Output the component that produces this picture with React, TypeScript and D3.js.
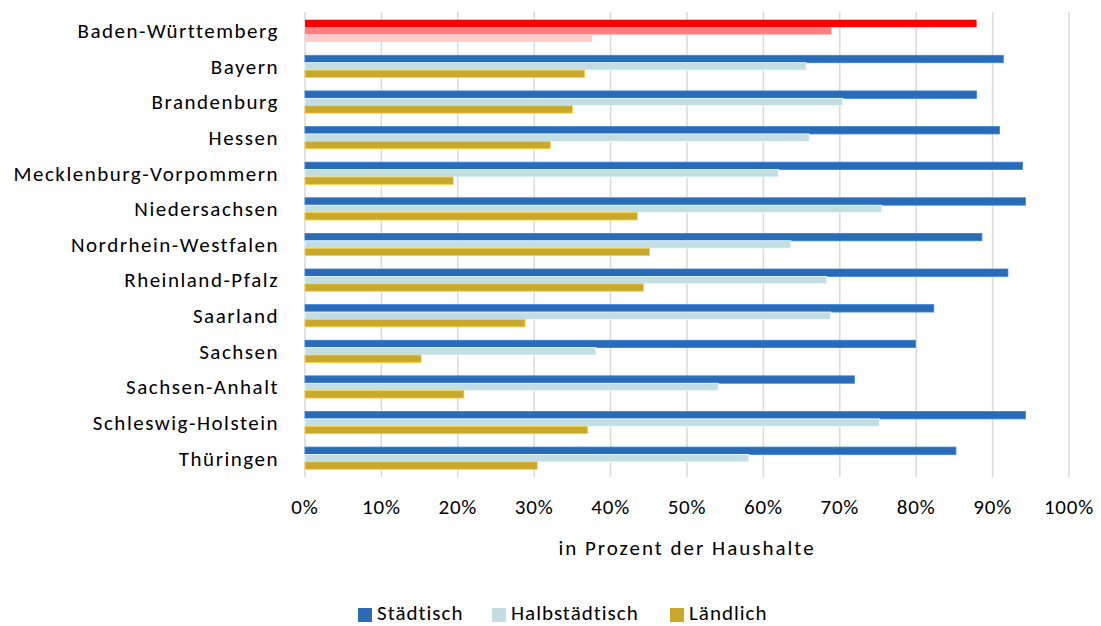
import * as d3 from 'd3';
import React from 'react';

const states = [
    'Baden-Württemberg',
    'Bayern',
    'Brandenburg',
    'Hessen',
    'Mecklenburg-Vorpommern',
    'Niedersachsen',
    'Nordrhein-Westfalen',
    'Rheinland-Pfalz',
    'Saarland',
    'Sachsen',
    'Sachsen-Anhalt',
    'Schleswig-Holstein',
    'Thüringen',
];
const seriesNames = ['Städtisch', 'Halbstädtisch', 'Ländlich'];
const staedtisch = [87.9, 91.4, 87.9, 90.9, 93.9, 94.3, 88.6, 92.0, 82.3, 79.9, 71.9, 94.3, 85.2];
const halbstaedtisch = [68.9, 65.6, 70.4, 66.0, 62.0, 75.5, 63.6, 68.3, 68.8, 38.1, 54.1, 75.2, 58.1];
const laendlich = [37.6, 36.6, 35.0, 32.1, 19.4, 43.5, 45.1, 44.3, 28.8, 15.2, 20.8, 37.0, 30.4];
const tickValues = [0, 10, 20, 30, 40, 50, 60, 70, 80, 90, 100];
const axisTitle = 'in Prozent der Haushalte';

const colors = ['#2A6BB8', '#C3DEE3', '#C9A82E'];
const highlightColors = ['#FF0000', '#FF8080', '#FFCCCC']; // Baden-Württemberg row
const FONT = 'Carlito, Calibri, Lato, sans-serif';
const FS = 21;

export default function App() {
    const width = 1101;
    const height = 626;

    const x = d3.scaleLinear().domain([0, 100]).range([305, 1069]);
    const y = d3.scaleBand().domain(states).range([13, 476]).paddingInner(0.376).paddingOuter(0.188);
    const inner = d3.scaleBand().domain(seriesNames).range([0, y.bandwidth()]);

    const values = [staedtisch, halbstaedtisch, laendlich];

    return (
        <div style={{ position: 'absolute', left: 0, top: 0 }}>
            <svg width={width} height={height} style={{ display: 'block', fontFamily: FONT }}>
                <rect width={width} height={height} fill="#fff" />
                {/* gridlines */}
                {tickValues.map((t) => (
                    <line key={t} x1={x(t)} x2={x(t)} y1={12} y2={477} stroke="#D9D9D9" strokeWidth={1.5} />
                ))}
                {/* bars */}
                {states.map((s, i) => (
                    <g key={s} transform={`translate(0,${y(s)})`}>
                        {seriesNames.map((name, k) => {
                            const fill = i === 0 ? highlightColors[k] : colors[k];
                            return (
                                <rect
                                    key={name}
                                    x={x(0)}
                                    y={inner(name)}
                                    width={x(values[k][i]) - x(0)}
                                    height={inner.bandwidth()}
                                    fill={fill}
                                    stroke={i === 0 ? 'none' : d3.color(fill)!.brighter(0.6).formatHex()}
                                    strokeWidth={0.8}
                                />
                            );
                        })}
                    </g>
                ))}
                {/* category labels */}
                {states.map((s) => (
                    <text
                        key={s}
                        x={279}
                        y={y(s)! + y.bandwidth() / 2}
                        dy="0.35em"
                        textAnchor="end"
                        fontSize={FS}
                        letterSpacing={1.5}
                        fill="#000"
                    >
                        {s}
                    </text>
                ))}
                {/* x tick labels */}
                {tickValues.map((t) => (
                    <text key={t} x={x(t)} y={507} dy="0.35em" textAnchor="middle" fontSize={FS} letterSpacing={0.8} fill="#000">
                        {t}%
                    </text>
                ))}
                <text x={(x(0) + x(100)) / 2} y={548} dy="0.35em" textAnchor="middle" fontSize={FS} letterSpacing={2} fill="#000">
                    {axisTitle}
                </text>
                {/* legend */}
                {seriesNames.map((name, k) => {
                    const lx = [358, 492, 670][k];
                    return (
                        <g key={name}>
                            <rect x={lx} y={608} width={14} height={14} fill={colors[k]} />
                            <text x={lx + 19} y={613} dy="0.35em" fontSize={FS} letterSpacing={1} fill="#000">
                                {name}
                            </text>
                        </g>
                    );
                })}
            </svg>
        </div>
    );
}
